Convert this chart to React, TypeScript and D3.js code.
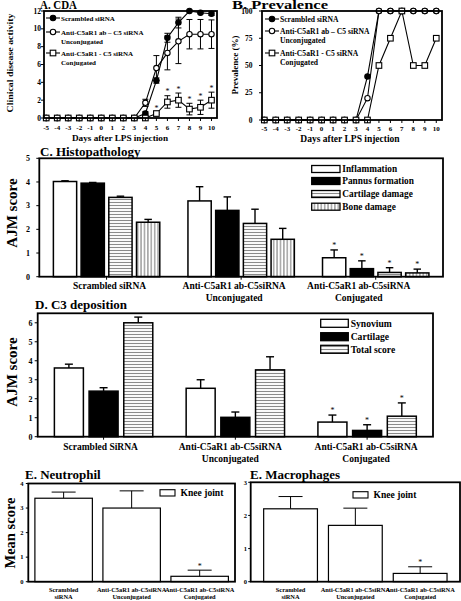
import React from 'react';
import * as d3 from 'd3';

const FONT = '"Liberation Serif", "Times New Roman", serif';

// ---------- Panel A / B data ----------
const days = [-5, -4, -3, -2, -1, 0, 1, 2, 3, 4, 5, 6, 7, 8, 9, 10];
const cdaScrambled = [0, 0, 0, 0, 0, 0, 0, 0, 0, 0.5, 4.2, 9.0, 10.7, 12, 11.8, 11.7];
const cdaScrambledErr = [0, 0, 0, 0, 0, 0, 0, 0, 0, 0.2, 0.3, 0.5, 0.6, 0.1, 0.1, 0.2];
const cdaUnconj = [0, 0, 0, 0, 0, 0, 0, 0, 0, 1.7, 5.6, 7.3, 8.6, 9.4, 9.4, 9.4];
const cdaUnconjErr = [0, 0, 0, 0, 0, 0, 0, 0, 0, 0.4, 1.4, 1.9, 2.5, 1.65, 1.65, 1.6];
const cdaConj = [0, 0, 0, 0, 0, 0, 0, 0, 0, 0, 0.5, 1.8, 2.0, 1.0, 1.2, 2.0];
const cdaConjErr = [0, 0, 0, 0, 0, 0, 0, 0, 0, 0, 0.1, 0.7, 0.8, 0.65, 0.8, 0.9];
const cdaConjSig = [0, 0, 0, 0, 0, 0, 0, 0, 0, 0, 1, 1, 1, 1, 1, 1];
const cdaYTicks = [0, 2, 4, 6, 8, 10, 12];

const prevScrambled = [0, 0, 0, 0, 0, 0, 0, 0, 0, 40, 100, 100, 100, 100, 100, 100];
const prevUnconj = [0, 0, 0, 0, 0, 0, 0, 0, 0, 20, 100, 100, 100, 100, 100, 100];
const prevConj = [0, 0, 0, 0, 0, 0, 0, 0, 0, 0, 50, 75, 100, 50, 50, 75];
const prevYTicks = [0, 25, 50, 75, 100];

const lineSeriesNames = [
  ['Scrambled siRNA'],
  ['Anti-C5aR1 ab \u2013 C5 siRNA', 'Unconjugated'],
  ['Anti-C5aR1 - C5 siRNA', 'Conjugated'],
];
const markerTypes = ['filled', 'open', 'square'];

// ---------- Panel C data ----------
const histoGroups = ['g1', 'g2', 'g3'];
const histoGroupLabels = [['Scrambled  siRNA'], ['Anti-C5aR1  ab-C5siRNA', 'Unconjugated'], ['Anti-C5aR1  ab-C5siRNA', 'Conjugated']];
const histoSeries = ['Inflammation', 'Pannus  formation', 'Cartilage  damage', 'Bone damage'];
const histoInflammation = [4.02, 3.2, 0.8];
const histoInflammationErr = [0.03, 0.6, 0.33];
const histoPannus = [3.95, 2.8, 0.34];
const histoPannusErr = [0.03, 0.57, 0.33];
const histoCartilage = [3.35, 2.25, 0.18];
const histoCartilageErr = [0.05, 0.6, 0.2];
const histoBone = [2.3, 1.58, 0.16];
const histoBoneErr = [0.12, 0.46, 0.16];
const histoSig = [0, 0, 1];
const histoYTicks = [0, 1, 2, 3, 4, 5];

// ---------- Panel D data ----------
const c3GroupLabels = [['Scrambled  SiRNA'], ['Anti-C5aR1  ab-C5siRNA', 'Unconjugated'], ['Anti-C5aR1  ab-C5siRNA', 'Conjugated']];
const c3Series = ['Synovium', 'Cartilage', 'Total score'];
const c3Synovium = [3.62, 2.55, 0.77];
const c3SynoviumErr = [0.2, 0.45, 0.37];
const c3Cartilage = [2.4, 1.02, 0.33];
const c3CartilageErr = [0.18, 0.28, 0.3];
const c3Total = [6.0, 3.52, 1.08];
const c3TotalErr = [0.3, 0.69, 0.7];
const c3Sig = [0, 0, 1];
const c3YTicks = [0, 1, 2, 3, 4, 5, 6];

// ---------- Panel E data ----------
const eGroupLabels = [['Scrambled', 'siRNA'], ['Anti-C5aR1 ab-C5siRNA', 'Unconjugated'], ['Anti-C5aR1 ab-C5siRNA', 'Conjugated']];
const neutrophil = [3.4, 3.0, 0.22];
const neutrophilErr = [0.25, 0.7, 0.25];
const macrophage = [2.2, 1.7, 0.25];
const macrophageErr = [0.37, 0.52, 0.2];
const eSig = [0, 0, 1];
const neutroYTicks = [0, 1, 2, 3, 4];
const macroYTicks = [0, 1, 2, 3];

function Marker({ type, x, y }: { type: string; x: number; y: number }) {
  if (type === 'square') return <rect x={x - 2.8} y={y - 2.8} width={5.6} height={5.6} fill="white" stroke="black" strokeWidth={1.1} />;
  return <circle cx={x} cy={y} r={2.7} fill={type === 'filled' ? 'black' : 'white'} stroke="black" strokeWidth={1.1} />;
}

function LinePanel(props: any) {
  const { x, y, series, errs, legendX, legendRows, yTicks, yTickX, xLabelBase, sig } = props;
  const line = d3.line<number>().x((_, i) => x(days[i])).y((v) => y(v));
  const [x0, x1] = x.range();
  const [yb, yt] = y.range();
  return (
    <g>
      {series.map((vals: number[], si: number) => (
        <g key={si}>
          <path d={line(vals) || ''} fill="none" stroke="black" strokeWidth={1.1} />
          {errs && errs[si].map((e: number, i: number) =>
            e > 0 ? (
              <g key={i} stroke="black" strokeWidth={1}>
                <line x1={x(days[i])} x2={x(days[i])} y1={y(vals[i] - e)} y2={y(Math.min(vals[i] + e, 12.2))} />
                <line x1={x(days[i]) - 3} x2={x(days[i]) + 3} y1={y(vals[i] + e)} y2={y(vals[i] + e)} />
                <line x1={x(days[i]) - 3} x2={x(days[i]) + 3} y1={y(vals[i] - e)} y2={y(vals[i] - e)} />
              </g>
            ) : null
          )}
        </g>
      ))}
      {series.map((vals: number[], si: number) =>
        vals.map((v: number, i: number) => <Marker key={si + '-' + i} type={markerTypes[si]} x={x(days[i])} y={y(v)} />)
      )}
      {sig && sig.map((s: number, i: number) =>
        s ? (
          <text key={i} x={x(days[i])} y={y(series[2][i] + errs[2][i]) - 1.5} fontSize={8} fontWeight="normal" textAnchor="middle">*</text>
        ) : null
      )}
      <rect x={x0} y={yt} width={x1 - x0} height={yb - yt} fill="none" stroke="black" strokeWidth={1.8} />
      {yTicks.map((t: number) => (
        <g key={t}>
          <line x1={x0 - 3} x2={x0} y1={y(t)} y2={y(t)} stroke="black" strokeWidth={1} />
          <text x={yTickX} y={y(t) + 2.6} fontSize={7.5} textAnchor="end">{t}</text>
        </g>
      ))}
      {days.map((d) => (
        <g key={d}>
          <line x1={x(d)} x2={x(d)} y1={yb} y2={yb + 3} stroke="black" strokeWidth={1} />
          <text x={x(d)} y={xLabelBase} fontSize={7} textAnchor="middle">{d}</text>
        </g>
      ))}
      {lineSeriesNames.map((names, si) => (
        <g key={si}>
          <line x1={legendX} x2={legendX + 14} y1={legendRows[si]} y2={legendRows[si]} stroke="black" strokeWidth={1.1} />
          <Marker type={markerTypes[si]} x={legendX + 7} y={legendRows[si]} />
          {names.map((n, li) => (
            <text key={li} x={legendX + 15} y={legendRows[si] + 2.6 + li * 9} fontSize={props.legendFont}>{n}</text>
          ))}
        </g>
      ))}
    </g>
  );
}

function BarGroupPanel(props: any) {
  const { outer, y, values, errs, fills, innerHalf, innerPad, sig, capW, yTicks, tickX, tickFont, frameTop } = props;
  const inner = d3.scaleBand<number>().domain(values.map((_: any, i: number) => i)).range([-innerHalf, innerHalf]).paddingInner(innerPad);
  const [x0, x1] = outer.range();
  const yb = y(0);
  return (
    <g>
      {histoGroups.map((g, gi) => {
        const cx = (outer(g) as number) + outer.bandwidth() / 2;
        return (
          <g key={g}>
            {values.map((vals: number[], si: number) => {
              const bx = cx + (inner(si) as number);
              const bw = inner.bandwidth();
              const top = y(vals[gi]);
              const et = y(vals[gi] + errs[si][gi]);
              return (
                <g key={si}>
                  <line x1={bx + bw / 2} x2={bx + bw / 2} y1={top} y2={et} stroke="black" strokeWidth={1.4} />
                  <line x1={bx + bw / 2 - capW / 2} x2={bx + bw / 2 + capW / 2} y1={et} y2={et} stroke="black" strokeWidth={1.4} />
                  <rect x={bx} y={top} width={bw} height={yb - top} fill={fills[si]} stroke="black" strokeWidth={1.5} />
                  {sig[gi] ? <text x={bx + bw / 2} y={et - 2} fontSize={8} fontWeight="normal" textAnchor="middle">*</text> : null}
                </g>
              );
            })}
            <line x1={cx} x2={cx} y1={yb} y2={yb + 3} stroke="black" strokeWidth={1} />
          </g>
        );
      })}
      <rect x={x0} y={frameTop} width={x1 - x0} height={yb - frameTop} fill="none" stroke="black" strokeWidth={1.8} />
      {yTicks.map((t: number) => (
        <g key={t}>
          <line x1={x0 - 3} x2={x0} y1={y(t)} y2={y(t)} stroke="black" strokeWidth={1} />
          <text x={tickX} y={y(t) + tickFont * 0.35} fontSize={tickFont} textAnchor="end">{t}</text>
        </g>
      ))}
    </g>
  );
}

function SimpleBarPanel(props: any) {
  const { x, y, values, errs, frameTop, yTicks, tickX, labels, legend } = props;
  const [x0, x1] = x.range();
  const yb = y(0);
  return (
    <g>
      {values.map((v: number, i: number) => {
        const bx = x(histoGroups[i]);
        const bw = x.bandwidth();
        const et = y(v + errs[i]);
        return (
          <g key={i}>
            <line x1={bx + bw / 2} x2={bx + bw / 2} y1={y(v)} y2={et} stroke="black" strokeWidth={1} />
            <line x1={bx + bw / 2 - 12} x2={bx + bw / 2 + 12} y1={et} y2={et} stroke="black" strokeWidth={1} />
            <rect x={bx} y={y(v)} width={bw} height={yb - y(v)} fill="white" stroke="black" strokeWidth={1.2} />
            {eSig[i] ? <text x={bx + bw / 2} y={et - 1.5} fontSize={8} fontWeight="normal" textAnchor="middle">*</text> : null}
            {labels[i].map((l: string, li: number) => (
              <text key={li} x={bx + bw / 2} y={591.5 + li * 7.6} fontSize={6.4} textAnchor="middle">{l}</text>
            ))}
          </g>
        );
      })}
      <rect x={x0} y={frameTop} width={x1 - x0} height={yb - frameTop} fill="none" stroke="black" strokeWidth={1.8} />
      {yTicks.map((t: number) => (
        <g key={t}>
          <line x1={x0 - 2.5} x2={x0} y1={y(t)} y2={y(t)} stroke="black" strokeWidth={1} />
          <text x={tickX} y={y(t) + 2.2} fontSize={6.5} textAnchor="end">{t}</text>
        </g>
      ))}
      <rect x={legend[0]} y={legend[1]} width={15} height={6.3} fill="white" stroke="black" strokeWidth={1.1} />
      <text x={legend[0] + 20.5} y={legend[1] + 6.2} fontSize={9.6}>Knee joint</text>
    </g>
  );
}

export default function App() {
  const xA = d3.scaleLinear().domain([-5.2, 10.5]).range([44, 217]);
  const yA = d3.scaleLinear().domain([0, 12]).range([118, 11]);
  const xB = d3.scaleLinear().domain([-5.2, 10.5]).range([262, 442]);
  const yB = d3.scaleLinear().domain([0, 100]).range([120, 11]);

  const xC = d3.scaleBand<string>().domain(histoGroups).range([39.3, 443]);
  const yC = d3.scaleLinear().domain([0, 5]).range([276.7, 158.3]);
  const xD = d3.scaleBand<string>().domain(histoGroups).range([37.7, 433]);
  const yD = d3.scaleLinear().domain([0, 6.5]).range([436.7, 313.3]);
  const xN = d3.scaleBand<string>().domain(histoGroups).range([28.3, 235]).paddingInner(0.155).paddingOuter(0.097);
  const yN = d3.scaleLinear().domain([0, 4]).range([581.7, 483.5]);
  const xM = d3.scaleBand<string>().domain(histoGroups).range([250.7, 460]).paddingInner(0.17).paddingOuter(0.2);
  const yM = d3.scaleLinear().domain([0, 3]).range([581.7, 482.3]);

  const cLabelDx = [3, -7, -17];
  const dLabelDx = [-3, -5, -1];

  return (
    <svg width={461} height={601} style={{ position: 'absolute', left: 0, top: 0, background: 'white' }} fontFamily={FONT} fontWeight="bold">
      <defs>
        <pattern id="hstripe" width={4} height={3} patternUnits="userSpaceOnUse">
          <rect width={4} height={3} fill="white" />
          <line x1={0} x2={4} y1={1.5} y2={1.5} stroke="#8a8a8a" strokeWidth={1.1} />
        </pattern>
        <pattern id="vstripe" width={3.4} height={4} patternUnits="userSpaceOnUse">
          <rect width={3.4} height={4} fill="white" />
          <line x1={1.7} x2={1.7} y1={0} y2={4} stroke="#222" strokeWidth={0.7} />
        </pattern>
      </defs>

      {/* Panel A */}
      <text x={40} y={9} fontSize={11.5} textLength={37} lengthAdjust="spacingAndGlyphs">A. CDA</text>
      <LinePanel
        x={xA} y={yA}
        series={[cdaScrambled, cdaUnconj, cdaConj]}
        errs={[cdaScrambledErr, cdaUnconjErr, cdaConjErr]}
        sig={cdaConjSig}
        legendX={46} legendRows={[18, 32, 53]} legendFont={7}
        yTicks={cdaYTicks} yTickX={41} xLabelBase={130}
      />
      <text x={120} y={140.5} fontSize={9.2} textAnchor="middle">Days after LPS injection</text>
      <text transform="translate(13,63) rotate(-90)" fontSize={9} textAnchor="middle" textLength={99} lengthAdjust="spacingAndGlyphs">Clinical  disease  activity</text>

      {/* Panel B */}
      <text x={232} y={8.6} fontSize={12} textLength={96} lengthAdjust="spacingAndGlyphs">B. Prevalence</text>
      <LinePanel
        x={xB} y={yB}
        series={[prevScrambled, prevUnconj, prevConj]}
        errs={null}
        sig={null}
        legendX={265} legendRows={[19, 31, 53]} legendFont={7.6}
        yTicks={prevYTicks} yTickX={252.5} xLabelBase={131}
      />
      <text x={350} y={142} fontSize={9.5} textAnchor="middle">Days after LPS  injection</text>
      <text transform="translate(238,65) rotate(-90)" fontSize={9} textAnchor="middle">Prevalence  (%)</text>

      {/* Panel C */}
      <text x={40} y={155.5} fontSize={13}>C. Histopathology</text>
      <BarGroupPanel
        outer={xC} y={yC}
        values={[histoInflammation, histoPannus, histoCartilage, histoBone]}
        errs={[histoInflammationErr, histoPannusErr, histoCartilageErr, histoBoneErr]}
        fills={['white', 'black', 'url(#hstripe)', 'url(#vstripe)']}
        innerHalf={53.2} innerPad={0.16} sig={histoSig} capW={7.5}
        yTicks={histoYTicks} tickX={30} tickFont={8} frameTop={158.3}
      />
      {histoSeries.map((s, i) => (
        <g key={s}>
          <rect x={311.7} y={[165.5, 177.5, 190.5, 203.2][i]} width={28.3} height={7} fill={['white', 'black', 'url(#hstripe)', 'url(#vstripe)'][i]} stroke="black" strokeWidth={1.3} />
          <text x={342.3} y={[172, 184, 197, 209.7][i]} fontSize={9.3}>{s}</text>
        </g>
      ))}
      {histoGroupLabels.map((ls, gi) =>
        ls.map((l, li) => (
          <text key={gi + '-' + li} x={(xC(histoGroups[gi]) as number) + xC.bandwidth() / 2 + cLabelDx[gi]} y={289 + li * 12.3} fontSize={9.5} textAnchor="middle">{l}</text>
        ))
      )}
      <text transform="translate(17,213) rotate(-90)" fontSize={15} textAnchor="middle">AJM score</text>

      {/* Panel D */}
      <text x={35} y={308.5} fontSize={13}>D. C3 deposition</text>
      <BarGroupPanel
        outer={xD} y={yD}
        values={[c3Synovium, c3Cartilage, c3Total]}
        errs={[c3SynoviumErr, c3CartilageErr, c3TotalErr]}
        fills={['white', 'black', 'url(#hstripe)']}
        innerHalf={49.2} innerPad={0.164} sig={c3Sig} capW={8}
        yTicks={c3YTicks} tickX={32.5} tickFont={8} frameTop={313.3}
      />
      {c3Series.map((s, i) => (
        <g key={s}>
          <rect x={320.7} y={[319.3, 332.7, 345.3][i]} width={27.6} height={8} fill={['white', 'black', 'url(#hstripe)'][i]} stroke="black" strokeWidth={1.3} />
          <text x={350.7} y={[326.5, 340, 352.6][i]} fontSize={9.6}>{s}</text>
        </g>
      ))}
      {c3GroupLabels.map((ls, gi) =>
        ls.map((l, li) => (
          <text key={gi + '-' + li} x={(xD(histoGroups[gi]) as number) + xD.bandwidth() / 2 + dLabelDx[gi]} y={450 + li * 11.7} fontSize={9.5} textAnchor="middle">{l}</text>
        ))
      )}
      <text transform="translate(17,372) rotate(-90)" fontSize={15} textAnchor="middle">AJM score</text>

      {/* Panel E - Neutrophil */}
      <text x={25} y={479} fontSize={13}>E. Neutrophil</text>
      <SimpleBarPanel
        x={xN} y={yN} values={neutrophil} errs={neutrophilErr} frameTop={483.5}
        yTicks={neutroYTicks} tickX={23.5} labels={eGroupLabels} legend={[160, 489.7]}
      />
      <text transform="translate(15,533) rotate(-90)" fontSize={14.5} textAnchor="middle">Mean score</text>

      {/* Panel E - Macrophages */}
      <text x={250} y={479} fontSize={13}>E. Macrophages</text>
      <SimpleBarPanel
        x={xM} y={yM} values={macrophage} errs={macrophageErr} frameTop={482.3}
        yTicks={macroYTicks} tickX={247} labels={eGroupLabels} legend={[353, 491.7]}
      />
    </svg>
  );
}
